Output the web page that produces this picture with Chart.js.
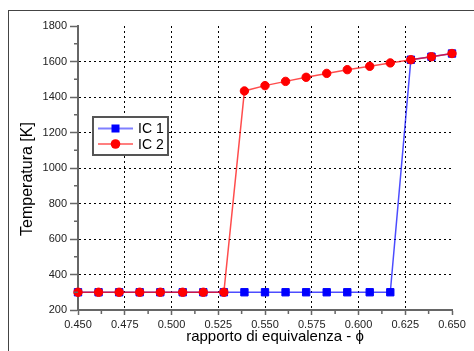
<!DOCTYPE html>
<html>
<head>
<meta charset="utf-8">
<script src="https://cdn.jsdelivr.net/npm/chart.js@4/dist/chart.umd.min.js"></script>
<style>
  html, body { margin: 0; padding: 0; background: #fff; overflow: hidden; }
  #wrap { position: relative; width: 474px; height: 351px; }
  #frame { position: absolute; left: 8px; top: 10px; width: 500px; height: 400px; border: 1px solid #444; }
  #myChart { position: absolute; left: 0; top: 0; }
</style>
</head>
<body>
<div id="wrap">
  <div id="frame"></div>
  <canvas id="myChart" width="474" height="351"></canvas>
</div>
<script>
'use strict';

// rapporto di equivalenza (phi)
var phi = [0.450, 0.461, 0.472, 0.483, 0.494, 0.506, 0.517, 0.528, 0.539, 0.550,
           0.561, 0.572, 0.583, 0.594, 0.606, 0.617, 0.628, 0.639, 0.650];
var ic1 = [300, 300, 300, 300, 300, 300, 300, 300, 300, 300,
           300, 300, 300, 300, 300, 300, 1610, 1627, 1645];
var ic2 = [300, 300, 300, 300, 300, 300, 300, 300, 1434, 1464,
           1488, 1511, 1533, 1554, 1573, 1592, 1610, 1627, 1645];
var seriesNames = ['IC 1', 'IC 2'];
var xTitle = 'rapporto di equivalenza - \u03d5';
var yTitle = 'Temperatura [K]';

var axisGray = '#666';
var fontName = '"Liberation Sans", Arial, sans-serif';

function toPoints(ys) {
  return phi.map(function(x, i) { return { x: x, y: ys[i] }; });
}

// minor ticks, titles and legend box
var extras = {
  id: 'extras',
  afterDraw: function(chart) {
    var ctx = chart.ctx;
    var xs = chart.scales.x, ys = chart.scales.y;
    ctx.save();
    ctx.strokeStyle = axisGray;
    ctx.lineWidth = 1.5;
    ctx.beginPath();
    for (var v = 0.4625; v < 0.65; v += 0.025) {
      var px = xs.getPixelForValue(v);
      ctx.moveTo(px, ys.bottom);
      ctx.lineTo(px, ys.bottom + 4);
    }
    for (var w = 300; w < 1800; w += 200) {
      var py = ys.getPixelForValue(w);
      ctx.moveTo(xs.left, py);
      ctx.lineTo(xs.left - 4, py);
    }
    ctx.stroke();

    // axis titles
    ctx.fillStyle = '#000';
    ctx.textAlign = 'center';
    ctx.textBaseline = 'middle';
    ctx.font = '15px ' + fontName;
    ctx.fillText(xTitle, 275, 337);
    ctx.save();
    ctx.translate(28, 179);
    ctx.rotate(-Math.PI / 2);
    ctx.font = '16px ' + fontName;
    ctx.fillText(yTitle, 0, 0);
    ctx.restore();

    // legend
    var bx = 93, by = 117, bw = 75, bh = 38;
    ctx.fillStyle = '#fff';
    ctx.fillRect(bx, by, bw, bh);
    ctx.strokeStyle = '#555';
    ctx.lineWidth = 2;
    ctx.strokeRect(bx, by, bw, bh);
    var rows = [
      { y: by + 11.5, line: 'rgba(0,0,255,0.5)', fill: '#0000ff', shape: 'rect' },
      { y: by + 27, line: 'rgba(255,0,0,0.5)', fill: '#ff0000', shape: 'circle' }
    ];
    rows.forEach(function(r, i) {
      ctx.strokeStyle = r.line;
      ctx.lineWidth = 2;
      ctx.beginPath();
      ctx.moveTo(bx + 5, r.y);
      ctx.lineTo(bx + 40, r.y);
      ctx.stroke();
      ctx.fillStyle = r.fill;
      if (r.shape === 'rect') {
        ctx.fillRect(bx + 18.5, r.y - 4, 8, 8);
      } else {
        ctx.beginPath();
        ctx.arc(bx + 22.5, r.y, 4.8, 0, Math.PI * 2);
        ctx.fill();
      }
      ctx.fillStyle = '#000';
      ctx.textAlign = 'left';
      ctx.font = '14px ' + fontName;
      ctx.fillText(seriesNames[i], bx + 45, r.y + 1);
    });
    ctx.restore();
  }
};

var ctx = document.getElementById('myChart');

var data = {
  datasets: [{
    label: seriesNames[0],
    data: toPoints(ic1),
    showLine: true,
    borderColor: 'rgba(0,0,255,0.7)',
    borderWidth: 1.5,
    backgroundColor: '#0000ff',
    pointBorderColor: '#0000ff',
    pointStyle: 'rect',
    pointRadius: 5.2,
    pointBorderWidth: 1,
    order: 1
  }, {
    label: seriesNames[1],
    data: toPoints(ic2),
    showLine: true,
    borderColor: 'rgba(255,0,0,0.7)',
    borderWidth: 1.5,
    backgroundColor: '#ff0000',
    pointBorderColor: '#ff0000',
    pointStyle: 'circle',
    pointRadius: 4.2,
    pointBorderWidth: 1,
    order: 0
  }]
};

var myChart = new Chart(ctx, {
  type: 'scatter',
  data: data,
  plugins: [extras],
  options: {
    responsive: false,
    animation: false,
    clip: false,
    layout: { padding: { left: 0, top: 26, right: 22, bottom: 0 } },
    plugins: { legend: { display: false }, tooltip: { enabled: false } },
    scales: {
      x: {
        type: 'linear',
        min: 0.45,
        max: 0.65,
        afterFit: function(scale) { scale.height = 41; },
        ticks: {
          stepSize: 0.025,
          padding: 3,
          color: '#222',
          font: { family: fontName, size: 11 },
          callback: function(v) { return Number(v).toFixed(3); }
        },
        grid: {
          color: function(c) {
            var v = c.tick ? c.tick.value : 0;
            return (v <= 0.4501 || v >= 0.6499) ? 'rgba(0,0,0,0)' : '#000';
          },
          lineWidth: 1,
          tickColor: axisGray,
          tickWidth: 1.5,
          tickLength: 5
        },
        border: { color: axisGray, width: 2, dash: [2, 3] }
      },
      y: {
        min: 200,
        max: 1800,
        afterFit: function(scale) { scale.width = 78; },
        ticks: {
          stepSize: 200,
          padding: 3,
          color: '#222',
          font: { family: fontName, size: 11 },
          callback: function(v) { return String(v); }
        },
        grid: {
          color: function(c) {
            var v = c.tick ? c.tick.value : 0;
            return (v <= 200 || v >= 1800) ? 'rgba(0,0,0,0)' : '#000';
          },
          lineWidth: 1,
          tickColor: axisGray,
          tickWidth: 1.5,
          tickLength: 8
        },
        border: { color: axisGray, width: 2, dash: [2, 3] }
      }
    }
  }
});
</script>
</body>
</html>
